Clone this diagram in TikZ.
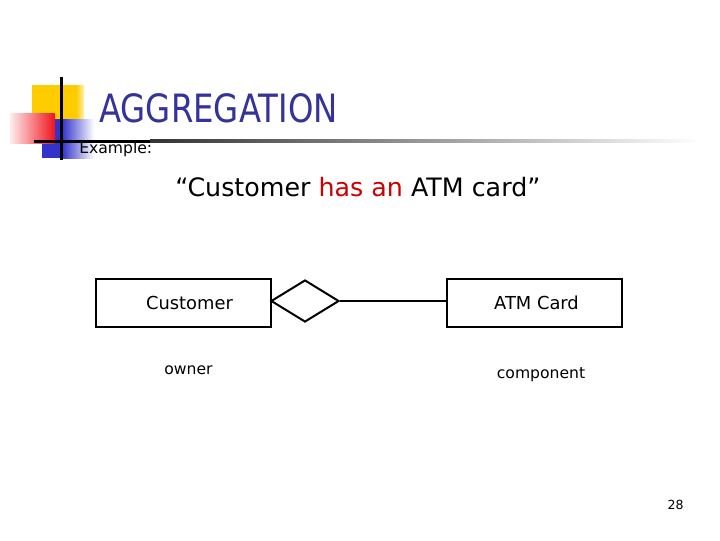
\documentclass[tikz,border=0pt]{standalone}
\usepackage{fontspec}
\setmainfont{DejaVu Sans}
\usetikzlibrary{shapes.geometric}
\definecolor{titleblue}{RGB}{51,51,153}
\definecolor{quotered}{RGB}{204,0,0}
\definecolor{decoyellow}{RGB}{255,204,0}
\definecolor{decoblue}{RGB}{51,51,204}
\definecolor{decored}{RGB}{240,20,30}
\tikzset{
  entity/.style={draw, line width=1.5pt, minimum width=131.25pt, minimum height=36pt, inner sep=0pt, font=\fontsize{13.4}{16}\selectfont},
  relation/.style={draw, diamond, line width=1.5pt, minimum width=51pt, minimum height=31.5pt, inner sep=0pt},
  connector/.style={line width=1.5pt},
  rolelabel/.style={anchor=base, inner sep=0pt, font=\fontsize{11.7}{14}\selectfont},
  plain/.style={inner sep=0pt}
}
\begin{document}
\begin{tikzpicture}[x=0.75pt,y=-0.75pt]
\useasboundingbox[fill=white] (0,0) rectangle (720,540);
% slide decoration
\fill[decoyellow] (32,85) rectangle (76,135);
\shade[left color=decoyellow, right color=decoyellow!30!white] (76,85) rectangle (84,135);
\fill[decoblue] (42,119) rectangle (62,158);
\shade[left color=decoblue, right color=white] (62,119) rectangle (94,158);
\shade[left color=decored!8!white, right color=decored] (10,113) rectangle (55,143);
\draw[line width=2.25pt] (61,77) -- (61,160);
\fill[black] (34,139.5) rectangle (150,142.5);
\shade[left color=black!80, right color=white] (150,139.5) rectangle (700,142.5);
% texts
\node[plain, anchor=base west, text=titleblue, font=\fontsize{29.25}{35}\selectfont] (title) at (99,122) {\scalebox{0.83}[1]{AGGREGATION}};
\node[plain, anchor=base west, font=\fontsize{11.7}{14}\selectfont] (example) at (79,153) {Example:};
\node[plain, anchor=base west, font=\fontsize{19}{23}\selectfont] (quote) at (175,196) {“Customer \textcolor{quotered}{has an} ATM card”};
% diagram
\node[entity] (customer) at (183.5,303) {\hspace*{9pt}Customer};
\node[entity] (atm) at (534.5,302.5) {\hspace*{3pt}ATM Card};
\node[relation] (agg) at (305,301) {};
\draw[connector] (agg.east) -- (agg.east -| atm.west);
\node[rolelabel] (owner) at (188.5,374) {owner};
\node[rolelabel] (component) at (541,378) {component};
\node[plain, anchor=base, font=\fontsize{9.4}{11}\selectfont] (page) at (675.5,509) {28};
\end{tikzpicture}
\end{document}
